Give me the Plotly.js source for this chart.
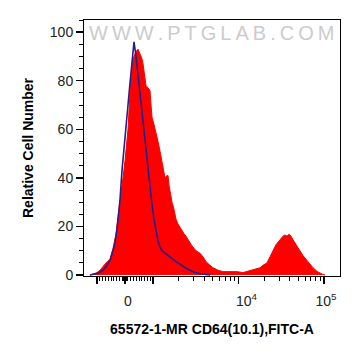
<!DOCTYPE html>
<html>
<head>
<meta charset="utf-8">
<script src="https://cdn.plot.ly/plotly-3.0.1.min.js"></script>
<style>html,body{margin:0;padding:0;background:#fff;}#chart{width:361px;height:356px;}</style>
</head>
<body>
<div id="chart"></div>
<script>
// Histogram channels (display scale: 0..256 across the axis)
const sampleChannels = [6, 9, 13, 16, 19, 22, 26, 29, 32, 35, 37, 39, 41, 43, 44, 46, 48, 50, 52, 54, 56, 58, 59, 60, 61, 62, 64, 66, 67, 68, 70, 72, 74, 76, 78, 80, 81, 83, 84, 85, 86, 88, 90, 92, 94, 96, 98, 100, 102, 104, 106, 108, 110, 112, 114, 116, 119, 122, 126, 129, 134, 139, 146, 153, 159, 163, 166, 171, 176, 179, 183, 186, 189, 192, 196, 199, 201, 203, 205, 207, 209, 212, 216, 219, 223, 226, 229, 233, 236, 239, 241];
const sampleCounts = [0, 0.3, 1, 2, 3.5, 5, 6.5, 11, 17, 26, 33, 40, 47, 55, 60, 75, 87, 90, 92, 93, 91, 89, 87, 84, 80, 78, 77, 76, 70, 65, 62, 59, 55, 51, 47, 42, 40, 41, 41, 37, 34, 30, 27, 23, 21, 19.5, 18.5, 17, 16, 14.5, 13, 12, 11, 10, 9.5, 9, 7.5, 5.5, 4, 3, 2, 1.4, 1.4, 1.4, 1, 1.5, 2, 2.5, 3, 4, 5, 7.5, 10, 12.5, 14.5, 16, 16.5, 16, 16.8, 16, 14.5, 12.5, 10, 8, 6, 4.5, 3, 1.5, 0.8, 0.2, 0];
const isotypeChannels = [6, 10, 13, 16, 19, 22, 26, 29, 31, 33, 36, 38, 40, 42, 44, 46, 48, 49, 50, 52, 54, 56, 58, 60, 62, 64, 66, 68, 70, 72, 74, 76, 78, 81, 84, 86, 89, 92, 96, 99, 102, 106, 111, 116, 121, 126];
const isotypeCounts = [0, 0.2, 0.6, 1.2, 2, 3.5, 6, 10, 13, 19, 31, 43, 51, 60, 70, 79, 88, 92, 96, 90, 82, 75, 67, 60, 53, 45, 37, 29, 23, 18, 14, 11.5, 10, 9, 8, 7.5, 6.5, 5.5, 4.5, 3.5, 2.8, 2, 1, 0.5, 0.2, 0];
const yTickVals = [0, 20, 40, 60, 80, 100];
const xLabelTexts = ['0', '10<sup>4</sup>', '10<sup>5</sup>'];
const xLabelValues = [0, 1e4, 1e5];

// display transform (biexponential-like) for axis positions
function disp(v) {
  if (Math.abs(v) <= 1000) return 41 + v * 0.028;
  const s = Math.sign(v);
  return s > 0 ? 69 + (Math.log10(v) - 3) * 85.5 : 41 - (28 + (Math.log10(-v) - 3) * 85.5);
}
const majorVals = [-1000, 0, 1000, 1e4, 1e5].map(disp);
const minorRaw = [];
for (let v = -900; v <= 900; v += 100) if (v !== 0) minorRaw.push(v);
for (let v = -90; v <= 90; v += 20) minorRaw.push(v);
for (let d = 1000; d <= 10000; d *= 10) for (let k = 2; k <= 9; k++) minorRaw.push(k * d);
const minorVals = minorRaw.map(disp);
const labelOffsets = [3, 8, 2];
const labelPos = xLabelValues.map((v, i) => disp(v) + labelOffsets[i]);

const traces = [
  {x: sampleChannels, y: sampleCounts, type: 'scatter', mode: 'lines', fill: 'tozeroy',
   fillcolor: '#ff0000', line: {color: '#ff0000', width: 1, shape: 'linear'}, hoverinfo: 'skip'},
  {x: isotypeChannels, y: isotypeCounts, type: 'scatter', mode: 'lines',
   line: {color: '#22208c', width: 1.6}, hoverinfo: 'skip'},
  {x: [0], y: [-10], xaxis: 'x2', yaxis: 'y', mode: 'markers', marker: {opacity: 0}, hoverinfo: 'skip'}
];

const layout = {
  width: 361, height: 356,
  margin: {l: 84, r: 21, t: 20, b: 80},
  paper_bgcolor: '#fff', plot_bgcolor: '#fff',
  showlegend: false,
  font: {family: 'Liberation Sans, Arial, sans-serif', color: '#222'},
  xaxis: {
    range: [0, 256], showgrid: false, zeroline: false,
    showline: true, linecolor: '#000', linewidth: 1, mirror: true,
    tickmode: 'array', tickvals: majorVals, showticklabels: false,
    ticks: 'outside', ticklen: 7, tickwidth: 1.5, tickcolor: '#000',
    minor: {tickvals: minorVals, ticks: 'outside', ticklen: 4, tickwidth: 1, tickcolor: '#000'}
  },
  xaxis2: {
    range: [0, 256], overlaying: 'x', anchor: 'y', side: 'bottom',
    showgrid: false, zeroline: false, showline: false,
    tickmode: 'array', tickvals: labelPos, ticktext: xLabelTexts,
    ticks: 'outside', ticklen: 8, tickcolor: 'rgba(0,0,0,0)',
    tickfont: {size: 14, color: '#222'}, ticklabelstandoff: 4,
    title: {text: '<b>65572-1-MR CD64(10.1),FITC-A</b>', font: {size: 14, color: '#000'}, standoff: 16}
  },
  yaxis: {
    range: [-0.4, 105], showgrid: false, zeroline: false,
    showline: true, linecolor: '#000', linewidth: 1, mirror: true,
    tickmode: 'array', tickvals: yTickVals,
    ticks: 'outside', ticklen: 7, tickwidth: 1.5, tickcolor: '#000',
    tickfont: {size: 14, color: '#222'},
    minor: {dtick: 5, ticks: 'outside', ticklen: 4, tickwidth: 1, tickcolor: '#000'},
    title: {text: '<b>Relative Cell Number</b>', font: {size: 14, color: '#000'}, standoff: 12}
  },
  annotations: [{
    xref: 'paper', yref: 'paper', x: 0.497, y: 1.0, xanchor: 'center', yanchor: 'top',
    text: 'W\u2009W\u2009W\u2009.\u2009P\u2009T\u2009G\u2009L\u2009A\u2009B\u2009.\u2009C\u2009O\u2009M', showarrow: false,
    font: {size: 20, color: '#cccccc', family: 'Liberation Sans, Arial, sans-serif'}
  }]
};

Plotly.newPlot('chart', traces, layout, {staticPlot: true, displayModeBar: false});
</script>
</body>
</html>
